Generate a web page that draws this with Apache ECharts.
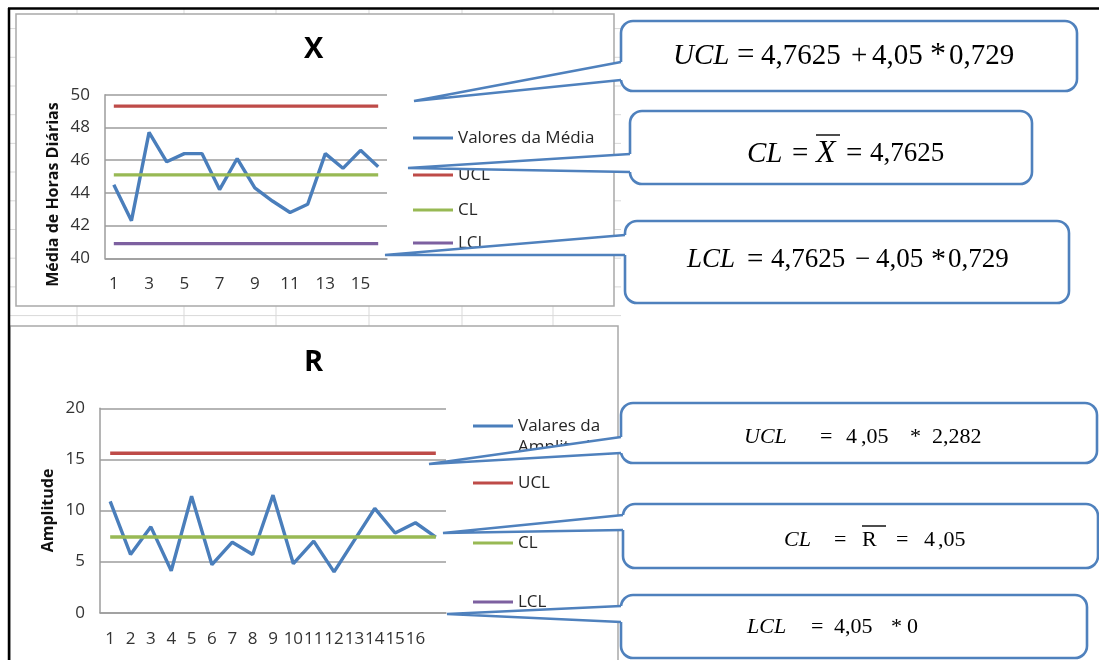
<!DOCTYPE html>
<html>
<head>
<meta charset="utf-8">
<script src="https://cdn.jsdelivr.net/npm/echarts@6/dist/echarts.min.js"></script>
<style>
  html, body { margin: 0; padding: 0; background: #fff; }
  #chart { width: 1099px; height: 660px; }
</style>
</head>
<body>
<div id="chart"></div>
<script>
// ---------- DATA ----------
const xCategories = ['1','2','3','4','5','6','7','8','9','10','11','12','13','14','15','16'];
const xMeans = [44.5, 42.3, 47.7, 45.9, 46.4, 46.4, 44.2, 46.1, 44.3, 43.5, 42.8, 43.3, 46.4, 45.5, 46.6, 45.6];
const xUCL = [49.3, 49.3, 49.3, 49.3, 49.3, 49.3, 49.3, 49.3, 49.3, 49.3, 49.3, 49.3, 49.3, 49.3, 49.3, 49.3];
const xCL  = [45.1, 45.1, 45.1, 45.1, 45.1, 45.1, 45.1, 45.1, 45.1, 45.1, 45.1, 45.1, 45.1, 45.1, 45.1, 45.1];
const xLCL = [40.9, 40.9, 40.9, 40.9, 40.9, 40.9, 40.9, 40.9, 40.9, 40.9, 40.9, 40.9, 40.9, 40.9, 40.9, 40.9];

const rCategories = ['1','2','3','4','5','6','7','8','9','10','11','12','13','14','15','16',''];
const rRanges = [10.9, 5.7, 8.4, 4.1, 11.4, 4.7, 6.9, 5.7, 11.5, 4.8, 7.0, 4.0, 7.1, 10.2, 7.8, 8.8, 7.4];
const rUCL = [15.6, 15.6, 15.6, 15.6, 15.6, 15.6, 15.6, 15.6, 15.6, 15.6, 15.6, 15.6, 15.6, 15.6, 15.6, 15.6, 15.6];
const rCL  = [7.4, 7.4, 7.4, 7.4, 7.4, 7.4, 7.4, 7.4, 7.4, 7.4, 7.4, 7.4, 7.4, 7.4, 7.4, 7.4, 7.4];
const rLCL = [];

const xAxisRange = { min: 40, max: 50, interval: 2 };
const rAxisRange = { min: 0, max: 20, interval: 5 };

// ---------- STYLE ----------
const C_BLUE = '#4A7EBB', C_RED = '#BE4B48', C_GREEN = '#98B954', C_PURPLE = '#7D60A0';
const GRID_GRAY = '#9c9c9c';
const SANS = '"Open Sans", "Noto Sans", sans-serif';
const SERIF = '"Liberation Serif", "DejaVu Serif", serif';
const CALLOUT = '#4F81BD';

function lineSeries(name, data, color, xi) {
  return {
    name, type: 'line', data, xAxisIndex: xi, yAxisIndex: xi,
    symbol: 'none', silent: true,
    lineStyle: { width: 3.4, color }, itemStyle: { color },
    emphasis: { disabled: true }
  };
}

function legendItem(name, left, top, label) {
  return {
    data: [name], left, top, orient: 'vertical', padding: 0,
    icon: 'rect', itemWidth: 40, itemHeight: 3, selectedMode: false,
    formatter: label ? () => label : undefined,
    textStyle: { fontFamily: SANS, fontSize: 17, color: '#262626', lineHeight: 20 }
  };
}

// background sheet grid + frames
const graphics = [];
const rowYs = [28.6, 57.3, 86, 114.7, 143.4, 172, 200.8, 229.5, 258.2, 286.9, 315.6];
rowYs.forEach(y => graphics.push({ type: 'line', z: -10, silent: true,
  shape: { x1: 9, y1: y, x2: 621, y2: y }, style: { stroke: '#d9d9d9', lineWidth: 1 } }));
[77, 184, 276, 369, 462, 553].forEach(x => graphics.push({ type: 'line', z: -10, silent: true,
  shape: { x1: x, y1: 9, x2: x, y2: 660 }, style: { stroke: '#d9d9d9', lineWidth: 1 } }));
graphics.push({ type: 'rect', z: -5, silent: true, shape: { x: 16, y: 14, width: 598, height: 292 },
  style: { fill: '#fff', stroke: '#a9a9a9', lineWidth: 1.5 } });
graphics.push({ type: 'rect', z: -5, silent: true, shape: { x: 10, y: 326, width: 608, height: 345 },
  style: { fill: '#fff', stroke: '#a9a9a9', lineWidth: 1.5 } });
graphics.push({ type: 'line', z: -1, silent: true, shape: { x1: 8, y1: 8.5, x2: 1099, y2: 8.5 },
  style: { stroke: '#000', lineWidth: 2.5 } });
graphics.push({ type: 'line', z: -1, silent: true, shape: { x1: 9, y1: 8, x2: 9, y2: 660 },
  style: { stroke: '#000', lineWidth: 2.5 } });

// continuation of the two-line legend label
graphics.push({ type: 'text', z: 50, silent: true, x: 518, y: 447,
  style: { text: 'Amplitude', fontFamily: SANS, fontSize: 17, fill: '#262626', align: 'left', verticalAlign: 'middle' } });

// callouts
function callout(box, tip, y1, y2, pieces, cy, size, overline) {
  const [bx, by, bw, bh] = box;
  graphics.push({ type: 'rect', z: 100, silent: true, shape: { x: bx, y: by, width: bw, height: bh, r: 12 },
    style: { fill: '#fff', stroke: CALLOUT, lineWidth: 2.6 } });
  graphics.push({ type: 'polygon', z: 101, silent: true,
    shape: { points: [tip, [bx, y1], [bx + 3, y1], [bx + 3, y2], [bx, y2]] }, style: { fill: '#fff' } });
  graphics.push({ type: 'polyline', z: 102, silent: true,
    shape: { points: [[bx, y1], tip, [bx, y2]] }, style: { stroke: CALLOUT, lineWidth: 2.6, fill: null } });
  pieces.forEach(([t, x, it, sz]) => graphics.push({ type: 'text', z: 103, silent: true, x, y: cy,
    style: { text: t, fontFamily: SERIF, fontSize: sz || size, fontStyle: it ? 'italic' : 'normal',
      fill: '#000', align: 'left', verticalAlign: 'middle' } }));
  if (overline) graphics.push({ type: 'line', z: 103, silent: true,
    shape: { x1: overline[0], y1: overline[2], x2: overline[1], y2: overline[2] },
    style: { stroke: '#000', lineWidth: 1.4 } });
}

callout([621, 21, 456, 70], [414, 101], 62, 80,
  [['UCL', 673, true], ['=', 737, false, 31], ['4,7625', 761], ['+', 851], ['4,05', 872], ['*', 930, false, 32], ['0,729', 949]], 56, 29);
callout([630, 111, 402, 73], [408, 168], 154, 172,
  [['CL', 747, true], ['=', 792], ['X', 816, true, 32], ['=', 846], ['4,7625', 870, false, 27]], 154, 29, [816, 840, 135]);
callout([625, 221, 444, 82], [385, 255], 235, 255,
  [['LCL', 687, true], ['=', 747, false, 29], ['4,7625', 771], ['\u2212', 855], ['4,05', 876], ['*', 931, false, 30], ['0,729', 948]], 260, 27);

callout([621, 403, 476, 60], [429, 464], 437, 453,
  [['UCL', 744, true], ['=', 820], ['4', 846], [',05', 861], ['*', 910], ['2,282', 932]], 437, 22);
callout([623, 504, 475, 64], [443, 533], 515, 530,
  [['CL', 784, true], ['=', 834], ['R', 862], ['=', 896], ['4', 924], [',05', 938]], 540, 22, [862, 886, 526]);
callout([621, 595, 466, 63], [447, 614], 606, 622,
  [['LCL', 747, true], ['=', 811], ['4,05', 834], ['*', 891], ['0', 907]], 627, 22);

const axisLabelStyle = { fontFamily: SANS, fontSize: 17, color: '#333' };
const nameStyle = { fontFamily: SANS, fontSize: 16, fontWeight: 'bold', color: '#111' };

const option = {
  animation: false,
  backgroundColor: '#fff',
  title: [
    { text: 'X', left: 304, top: 35, padding: 0, textStyle: { fontFamily: SANS, fontWeight: 'bold', fontSize: 29, color: '#000' } },
    { text: 'R', left: 304, top: 348, padding: 0, textStyle: { fontFamily: SANS, fontWeight: 'bold', fontSize: 29, color: '#000' } }
  ],
  legend: [
    legendItem('Valores da Média', 413, 128),
    legendItem('UCL', 413, 165),
    legendItem('CL', 413, 200),
    legendItem('LCL', 413, 233),
    legendItem('Valares da Amplitude', 473, 416, 'Valares da'),
    legendItem('UCL', 473, 473),
    legendItem('CL', 473, 533),
    legendItem('LCL', 473, 592)
  ],
  grid: [
    { left: 105, top: 94.7, width: 282, height: 163.6 },
    { left: 100, top: 408.3, width: 346, height: 204.4 }
  ],
  xAxis: [
    { type: 'category', gridIndex: 0, data: xCategories, boundaryGap: true,
      axisLine: { lineStyle: { color: GRID_GRAY, width: 1.5 } }, axisTick: { show: false },
      axisLabel: Object.assign({ interval: 1, margin: 17 }, axisLabelStyle) },
    { type: 'category', gridIndex: 1, data: rCategories, boundaryGap: true,
      axisLine: { lineStyle: { color: GRID_GRAY, width: 1.5 } }, axisTick: { show: false },
      axisLabel: Object.assign({ interval: 0, margin: 18, hideOverlap: false }, axisLabelStyle) }
  ],
  yAxis: [
    { type: 'value', gridIndex: 0, min: xAxisRange.min, max: xAxisRange.max, interval: xAxisRange.interval,
      name: 'Média de Horas Diárias', nameLocation: 'middle', nameRotate: 90, nameGap: 44,
      nameTextStyle: Object.assign({ padding: [0, 36, 0, 0] }, nameStyle),
      axisLine: { show: true, lineStyle: { color: GRID_GRAY, width: 1.5 } }, axisTick: { show: false },
      splitLine: { lineStyle: { color: GRID_GRAY, width: 1.5 } },
      axisLabel: Object.assign({ margin: 15 }, axisLabelStyle) },
    { type: 'value', gridIndex: 1, min: rAxisRange.min, max: rAxisRange.max, interval: rAxisRange.interval,
      name: 'Amplitude', nameLocation: 'middle', nameRotate: 90, nameGap: 44, nameTextStyle: nameStyle,
      axisLine: { show: true, lineStyle: { color: GRID_GRAY, width: 1.5 } }, axisTick: { show: false },
      splitLine: { lineStyle: { color: GRID_GRAY, width: 1.5 } },
      axisLabel: Object.assign({ margin: 15 }, axisLabelStyle) }
  ],
  series: [
    lineSeries('Valores da Média', xMeans, C_BLUE, 0),
    lineSeries('UCL', xUCL, C_RED, 0),
    lineSeries('CL', xCL, C_GREEN, 0),
    lineSeries('LCL', xLCL, C_PURPLE, 0),
    lineSeries('Valares da Amplitude', rRanges, C_BLUE, 1),
    lineSeries('UCL', rUCL, C_RED, 1),
    lineSeries('CL', rCL, C_GREEN, 1),
    lineSeries('LCL', rLCL, C_PURPLE, 1)
  ],
  graphic: { elements: graphics }
};

const chart = echarts.init(document.getElementById('chart'), null, { renderer: 'canvas', width: 1099, height: 660 });
chart.setOption(option);
</script>
</body>
</html>
